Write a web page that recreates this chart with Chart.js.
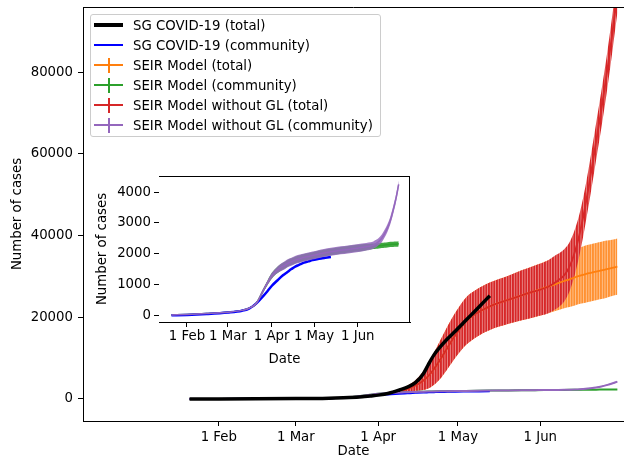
<!DOCTYPE html>
<html>
<head>
<meta charset="utf-8">
<script src="https://cdn.jsdelivr.net/npm/chart.js@4.4.1/dist/chart.umd.min.js"></script>
<style>
  body { margin: 0; background: #fff; }
  #wrap { position: relative; width: 624px; height: 460px; overflow: hidden; font-family: 'DejaVu Sans', sans-serif; }
  #main { position: absolute; left: 0; top: 0; }
  #inset { position: absolute; left: 85px; top: 168px; }
  #legend { position: absolute; left: 90px; top: 14px; width: 291px; height: 123px; box-sizing: border-box;
            border: 1px solid #ccc; border-radius: 3px; background: rgba(255,255,255,0.8); }
  .row { height: 20px; display: flex; align-items: center; font-size: 13.3px; color: #000; white-space: nowrap; }
  .handle { position: relative; width: 29px; height: 20px; margin-left: 3px; margin-right: 10px; flex: none; }
  .handle i { position: absolute; display: block; }
</style>
</head>
<body>
<div id="wrap">
  <canvas id="main" width="624" height="460"></canvas>
  <canvas id="inset" width="330" height="200"></canvas>
  <div id="legend"></div>
</div>
<script>
// x values are day of year 2020 (31 = 1 Feb)
const tickDays = [31, 60, 91, 121, 152];
const tickLabels = ['1 Feb', '1 Mar', '1 Apr', '1 May', '1 Jun'];
const mainYTicks = [0, 20000, 40000, 60000, 80000];
const insetYTicks = [0, 1000, 2000, 3000, 4000];

const seriesLabels = [
  'SG COVID-19 (total)',
  'SG COVID-19 (community)',
  'SEIR Model (total)',
  'SEIR Model (community)',
  'SEIR Model without GL (total)',
  'SEIR Model without GL (community)'
];

// reported data
const sgDays = [20, 31, 45, 60, 70, 75, 80, 85, 88, 91, 95, 99, 102, 105, 108, 110, 112, 114, 117, 120, 123, 126, 129, 133];
const sgTotal = [0, 15, 50, 100, 150, 230, 350, 550, 750, 950, 1400, 2200, 2900, 4000, 6200, 8600, 10800, 12500, 14700, 16600, 18600, 20600, 22600, 25300];
const sgCommunity = [0, 10, 40, 90, 150, 220, 380, 620, 780, 950, 1130, 1300, 1400, 1500, 1590, 1630, 1670, 1710, 1750, 1790, 1820, 1845, 1865, 1890];

// model runs (mean and error)
const modelDays = [20, 31, 45, 60, 70, 75, 80, 85, 88, 91, 94, 97, 100, 102, 105, 108, 111, 114, 117, 120, 124, 128, 133, 140, 145, 150, 155, 158, 161, 163, 165, 167, 169, 171, 173, 175, 177, 179, 181];
const seirTotal = [0, 20, 50, 100, 170, 250, 350, 550, 750, 1000, 1300, 1600, 2000, 2500, 3300, 4500, 6500, 9300, 12500, 15600, 19000, 21000, 22700, 24300, 25400, 26400, 27500, 28200, 28900, 29300, 29800, 30200, 30600, 30900, 31200, 31500, 31800, 32100, 32400];
const seirTotalErr = [0, 0, 10, 20, 30, 40, 60, 100, 150, 220, 300, 400, 550, 750, 1300, 2300, 3500, 4600, 5200, 5500, 5800, 5800, 5800, 5900, 6100, 6300, 6500, 6600, 6700, 6800, 6900, 6900, 7000, 7000, 7000, 7000, 7000, 6900, 6900];
const noGlTotal = [0, 20, 50, 100, 170, 250, 350, 550, 750, 1000, 1300, 1600, 2000, 2500, 3300, 4500, 6500, 9300, 12500, 15600, 19000, 21000, 22700, 24300, 25400, 26400, 27500, 28700, 30300, 32400, 36000, 41000, 47500, 55000, 63000, 71000, 79500, 89000, 99000];
const noGlTotalErr = [0, 0, 10, 20, 30, 40, 60, 100, 150, 220, 300, 400, 550, 750, 1300, 2300, 3500, 4600, 5200, 5500, 5800, 5800, 5800, 5900, 6100, 6300, 6500, 6600, 6400, 6000, 5500, 5000, 4600, 4500, 4500, 4500, 4500, 4500, 4500];
const seirCommunity = [10, 25, 55, 100, 160, 230, 380, 800, 1050, 1280, 1430, 1540, 1620, 1680, 1740, 1800, 1840, 1880, 1910, 1940, 1985, 2020, 2060, 2110, 2140, 2170, 2200, 2215, 2230, 2240, 2250, 2260, 2270, 2280, 2290, 2300, 2305, 2310, 2320];
const seirCommunityErr = [5, 5, 8, 10, 15, 20, 40, 60, 75, 90, 100, 110, 110, 110, 110, 110, 110, 110, 110, 110, 110, 110, 110, 110, 110, 110, 110, 100, 95, 90, 90, 90, 85, 85, 85, 85, 85, 85, 85];
const noGlCommunity = [10, 25, 55, 100, 160, 230, 380, 800, 1050, 1280, 1430, 1540, 1620, 1680, 1740, 1800, 1840, 1880, 1910, 1940, 1985, 2020, 2060, 2110, 2140, 2170, 2200, 2225, 2250, 2280, 2330, 2400, 2500, 2650, 2830, 3070, 3400, 3780, 4250];
const noGlCommunityErr = [5, 5, 8, 10, 15, 20, 40, 60, 75, 90, 100, 120, 130, 130, 130, 130, 130, 130, 130, 130, 130, 130, 130, 130, 130, 130, 130, 125, 120, 120, 120, 120, 125, 125, 125, 125, 125, 125, 125];

const BLACK = '#000000', BLUE = '#0000ff', ORANGE = '#ff7f0e', GREEN = '#2ca02c', RED = '#d62728', PURPLE = '#9467bd';
const legendStyle = [[BLACK, 4, false], [BLUE, 2.5, false], [ORANGE, 2, true], [GREEN, 2, true], [RED, 2, true], [PURPLE, 2, true]];

Chart.defaults.font.family = "'DejaVu Sans', sans-serif";
Chart.defaults.font.size = 13.3;
Chart.defaults.color = '#000';

function stripes(ctx, bar, gap) {
  const c = document.createElement('canvas');
  c.width = 8; c.height = 4;
  const g = c.getContext('2d');
  g.fillStyle = gap; g.fillRect(0, 0, 8, 4);
  g.fillStyle = bar;
  for (let k = 0; k < 3; k++) g.fillRect(k * 8 / 3, 0, 1.9, 4);
  return ctx.createPattern(c, 'repeat');
}

function line(days, vals, color, width, order) {
  return {
    data: days.map((d, i) => ({ x: d, y: vals[i] })),
    borderColor: color, borderWidth: width, pointRadius: 0, fill: false, order,
    cubicInterpolationMode: 'monotone'
  };
}

function band(days, vals, errs, fillStyle, order) {
  return [
    { data: days.map((d, i) => ({ x: d, y: vals[i] - errs[i] })), borderWidth: 0, pointRadius: 0, fill: false, order, cubicInterpolationMode: 'monotone' },
    { data: days.map((d, i) => ({ x: d, y: vals[i] + errs[i] })), borderWidth: 0, pointRadius: 0, fill: '-1', backgroundColor: fillStyle, order, cubicInterpolationMode: 'monotone' }
  ];
}

const frame = {
  id: 'frame',
  beforeDatasetsDraw(chart, args, opts) {
    if (!opts.bg) return;
    const { ctx, chartArea: a } = chart;
    ctx.save();
    ctx.fillStyle = '#fff';
    ctx.fillRect(a.left, a.top, a.right - a.left, a.bottom - a.top);
    ctx.restore();
  },
  afterDatasetsDraw(chart, args, opts) {
    const { ctx, chartArea: a } = chart;
    ctx.save();
    ctx.strokeStyle = '#000';
    ctx.lineWidth = 1;
    ctx.beginPath();
    if (opts.top) { ctx.moveTo(a.left, Math.round(a.top) + 0.5); ctx.lineTo(a.right, Math.round(a.top) + 0.5); }
    if (opts.right) { ctx.moveTo(Math.round(a.right) - 0.5, a.top); ctx.lineTo(Math.round(a.right) - 0.5, a.bottom); }
    ctx.stroke();
    ctx.restore();
  }
};

function scales(xr, yr, yTicks, yWidth, xHeight, yPad, xPad) {
  const tickGrid = { drawOnChartArea: false, drawTicks: true, tickLength: 5, color: '#000', lineWidth: 1 };
  return {
    x: {
      type: 'linear', min: xr[0], max: xr[1],
      afterBuildTicks: s => { s.ticks = tickDays.map(v => ({ value: v })); },
      afterFit: s => { s.height = xHeight; s.paddingLeft = 0; s.paddingRight = 0; },
      ticks: { autoSkip: false, maxRotation: 0, padding: xPad, callback: v => tickLabels[tickDays.indexOf(v)] },
      grid: tickGrid,
      border: { color: '#000', width: 1 },
      title: { display: true, text: 'Date', padding: { top: 0, bottom: 0 } }
    },
    y: {
      type: 'linear', min: yr[0], max: yr[1],
      afterBuildTicks: s => { s.ticks = yTicks.map(v => ({ value: v })); },
      afterFit: s => { s.width = yWidth; s.paddingTop = 0; s.paddingBottom = 0; },
      ticks: { padding: yPad, callback: v => String(v) },
      grid: tickGrid,
      border: { color: '#000', width: 1 },
      title: { display: true, text: 'Number of cases', padding: { top: 10, bottom: 0 } }
    }
  };
}

const mainCtx = document.getElementById('main').getContext('2d');
const redStripes = stripes(mainCtx, 'rgb(214,39,40)', 'rgb(238,160,160)');
const orangeStripes = stripes(mainCtx, 'rgb(255,145,50)', 'rgb(255,205,160)');

new Chart(mainCtx, {
  type: 'line',
  data: {
    datasets: [
      line(sgDays, sgTotal, BLACK, 3.5, 0),
      line(modelDays, noGlCommunity, PURPLE, 2, 1),
      ...band(modelDays, noGlCommunity, noGlCommunityErr, PURPLE, 2),
      line(sgDays, sgCommunity, BLUE, 2, 3),
      line(modelDays, seirCommunity, GREEN, 2, 4),
      ...band(modelDays, seirCommunity, seirCommunityErr, GREEN, 5),
      line(modelDays, noGlTotal, RED, 1.8, 6),
      line(modelDays, seirTotal, ORANGE, 1.8, 7),
      ...band(modelDays, noGlTotal, noGlTotalErr, redStripes, 8),
      ...band(modelDays, seirTotal, seirTotalErr, orangeStripes, 9)
    ]
  },
  options: {
    responsive: false,
    animation: false,
    layout: { padding: { top: 7, right: 0, left: 0, bottom: 0 } },
    scales: scales([-20.1, 183.5], [-5390, 96000], mainYTicks, 83, 39, 5, 4),
    plugins: { legend: { display: false }, tooltip: { enabled: false }, frame: { top: true } }
  },
  plugins: [frame]
});

new Chart(document.getElementById('inset'), {
  type: 'line',
  data: {
    datasets: [
      line(modelDays, noGlCommunity, PURPLE, 1.5, 0),
      ...band(modelDays, noGlCommunity, noGlCommunityErr, 'rgba(148,103,189,0.85)', 1),
      line(sgDays, sgCommunity, BLUE, 2.5, 2),
      line(modelDays, seirCommunity, GREEN, 1.5, 3),
      ...band(modelDays, seirCommunity, seirCommunityErr, 'rgba(44,160,44,0.9)', 4)
    ]
  },
  options: {
    responsive: false,
    animation: false,
    layout: { padding: { top: 8, right: 5, left: 0, bottom: 0 } },
    scales: scales([11.2, 189], [-218, 4523], insetYTicks, 74, 46, 3, 2),
    plugins: { legend: { display: false }, tooltip: { enabled: false }, frame: { top: true, right: true, bg: true } }
  },
  plugins: [frame]
});

const legendEl = document.getElementById('legend');
seriesLabels.forEach((label, i) => {
  const [color, lw, err] = legendStyle[i];
  const row = document.createElement('div');
  row.className = 'row';
  row.innerHTML = `<span class="handle"><i style="left:0;width:29px;top:${(20 - lw) / 2}px;height:${lw}px;background:${color}"></i>` +
    (err ? `<i style="left:13.5px;width:2px;top:2.5px;height:15px;background:${color}"></i>` : '') +
    `</span><span>${label}</span>`;
  legendEl.appendChild(row);
});
</script>
</body>
</html>
